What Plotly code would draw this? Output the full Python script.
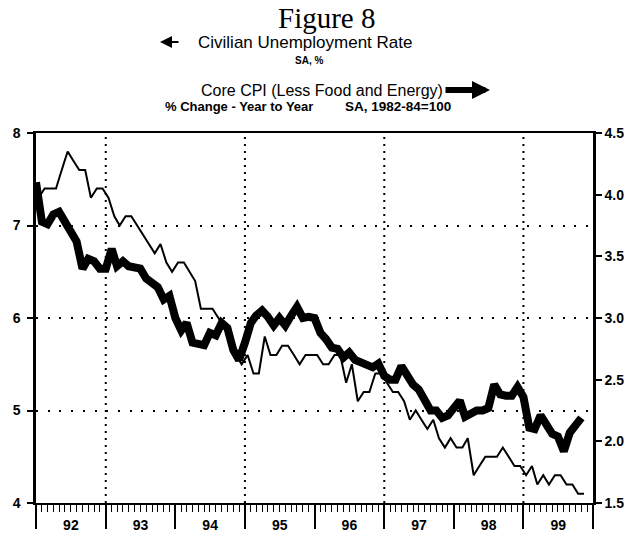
import pandas as pd
import plotly.graph_objects as go

# ---------------- data ----------------
# Civilian unemployment rate, SA, % (monthly, Jan 1992 - Nov 1999)
unemployment = [
    7.3, 7.4, 7.4, 7.4, 7.6, 7.8, 7.7, 7.6, 7.6, 7.3, 7.4, 7.4,
    7.3, 7.1, 7.0, 7.1, 7.1, 7.0, 6.9, 6.8, 6.7, 6.8, 6.6, 6.5,
    6.6, 6.6, 6.5, 6.4, 6.1, 6.1, 6.1, 6.0, 5.9, 5.8, 5.6, 5.5,
    5.6, 5.4, 5.4, 5.8, 5.6, 5.6, 5.7, 5.7, 5.6, 5.5, 5.6, 5.6,
    5.6, 5.5, 5.5, 5.6, 5.6, 5.3, 5.5, 5.1, 5.2, 5.2, 5.4, 5.4,
    5.3, 5.2, 5.2, 5.1, 4.9, 5.0, 4.9, 4.8, 4.9, 4.7, 4.6, 4.7,
    4.6, 4.6, 4.7, 4.3, 4.4, 4.5, 4.5, 4.5, 4.6, 4.5, 4.4, 4.4,
    4.3, 4.4, 4.2, 4.3, 4.2, 4.3, 4.3, 4.2, 4.2, 4.1, 4.1,
]

# Core CPI (less food and energy), % change year to year (monthly, Jan 1992 - Nov 1999)
core_cpi = [
    4.10, 3.78, 3.76, 3.84, 3.86, 3.78, 3.73, 3.62, 3.40, 3.48, 3.46, 3.40,
    3.40, 3.56, 3.42, 3.46, 3.42, 3.41, 3.40, 3.32, 3.28, 3.25, 3.15, 3.18,
    3.00, 2.90, 2.96, 2.80, 2.79, 2.78, 2.88, 2.86, 2.96, 2.92, 2.74, 2.66,
    2.80, 2.96, 3.02, 3.06, 3.01, 2.94, 3.00, 2.94, 3.02, 3.09, 3.00, 3.01,
    3.00, 2.88, 2.83, 2.76, 2.75, 2.68, 2.72, 2.66, 2.64, 2.62, 2.60, 2.63,
    2.53, 2.50, 2.50, 2.61, 2.52, 2.46, 2.42, 2.34, 2.25, 2.25, 2.19, 2.21,
    2.26, 2.33, 2.20, 2.23, 2.25, 2.25, 2.27, 2.46, 2.38, 2.37, 2.37, 2.44,
    2.36, 2.11, 2.10, 2.21, 2.14, 2.06, 2.04, 1.92, 2.07, 2.12, 2.19,
]

start_month = "1992-01-01"
x_range = ["1992-01-01", "2000-01-01"]
grid_years = ["1993-01-01", "1995-01-01", "1997-01-01", "1999-01-01"]
left_ticks = [4, 5, 6, 7, 8]
right_ticks = [1.5, 2.0, 2.5, 3.0, 3.5, 4.0, 4.5]

unemp_dates = pd.date_range(start_month, periods=len(unemployment), freq="MS") + pd.Timedelta(days=14)
cpi_dates = pd.date_range(start_month, periods=len(core_cpi), freq="MS")

# ---------------- figure ----------------
W, H = 634, 533
ML, MR, MT, MB = 36, 41, 133, 30
PW, PH = W - ML - MR, H - MT - MB


def px(x):
    return (x - ML) / PW


def py(y):
    return (H - MB - y) / PH


SANS = "Liberation Sans"
fig = go.Figure()

fig.add_trace(go.Scatter(
    x=unemp_dates, y=unemployment, mode="lines",
    line=dict(color="black", width=2), yaxis="y",
    name="Civilian Unemployment Rate",
))
fig.add_trace(go.Scatter(
    x=cpi_dates, y=core_cpi, mode="lines",
    line=dict(color="black", width=8), yaxis="y2",
    name="Core CPI (Less Food and Energy)",
))

for d in grid_years:
    fig.add_shape(type="line", xref="x", yref="paper", x0=d, x1=d, y0=0, y1=1,
                  line=dict(color="black", width=2, dash="2px,5px"), layer="below")

tickfont = dict(family=SANS, size=14, color="black", weight="bold")

fig.update_layout(
    width=W, height=H,
    margin=dict(l=ML, r=MR, t=MT, b=MB, autoexpand=False),
    paper_bgcolor="white", plot_bgcolor="white",
    showlegend=False,
    xaxis=dict(
        type="date", range=x_range, dtick="M12", tick0=start_month,
        tickformat="%y", ticklabelmode="period",
        ticks="outside", ticklen=24, tickwidth=2, tickcolor="black",
        ticklabelstandoff=-16, automargin=False,
        minor=dict(dtick="M1", ticks="outside", ticklen=7, tickwidth=1,
                   tickcolor="black", showgrid=False),
        showline=True, linewidth=2, linecolor="black", mirror=True,
        showgrid=False, zeroline=False, tickfont=tickfont,
    ),
    yaxis=dict(
        range=[4, 8], tickvals=left_ticks, automargin=False,
        ticks="outside", ticklen=6, tickwidth=2, tickcolor="black",
        ticklabelstandoff=4,
        showline=True, linewidth=2.5, linecolor="black",
        showgrid=True, gridcolor="black", gridwidth=2, griddash="2px,9.7px",
        zeroline=False, tickfont=tickfont,
    ),
    yaxis2=dict(
        range=[1.5, 4.5], tickvals=right_ticks, tickformat=".1f",
        overlaying="y", side="right", automargin=False,
        ticks="outside", ticklen=6, tickwidth=2, tickcolor="black",
        showline=True, linewidth=2.5, linecolor="black",
        showgrid=False, zeroline=False, tickfont=tickfont,
    ),
)

ann = [
    dict(text="Figure 8", x=px(326), y=py(18),
         font=dict(family="Liberation Serif", size=29, color="black")),
    dict(text="Civilian Unemployment Rate", x=px(305), y=py(42),
         font=dict(family=SANS, size=17, color="black")),
    dict(text="SA, %", x=px(309), y=py(60),
         font=dict(family=SANS, size=10, color="black", weight="bold")),
    dict(text="Core CPI (Less Food and Energy)", x=px(322), y=py(90),
         font=dict(family=SANS, size=16, color="black")),
    dict(text="% Change - Year to Year", x=px(239), y=py(106),
         font=dict(family=SANS, size=13, color="black", weight="bold")),
    dict(text="SA, 1982-84=100", x=px(398), y=py(106),
         font=dict(family=SANS, size=13.5, color="black", weight="bold")),
]
for a in ann:
    fig.add_annotation(xref="paper", yref="paper", showarrow=False,
                       xanchor="center", yanchor="middle", **a)

# legend arrows
fig.add_annotation(xref="paper", yref="paper", x=px(160), y=py(42), text="",
                   showarrow=True, ax=20, ay=0, arrowhead=2, arrowsize=1.2,
                   arrowwidth=2, arrowcolor="black", standoff=0)
fig.add_annotation(xref="paper", yref="paper", x=px(490), y=py(90), text="",
                   showarrow=True, ax=-46, ay=0, arrowhead=2, arrowsize=0.6,
                   arrowwidth=6, arrowcolor="black", standoff=0)

fig.write_html(
    "out.html",
    config={"displayModeBar": False},
    post_script="document.body.style.margin='0';document.body.style.overflow='hidden';",
)
